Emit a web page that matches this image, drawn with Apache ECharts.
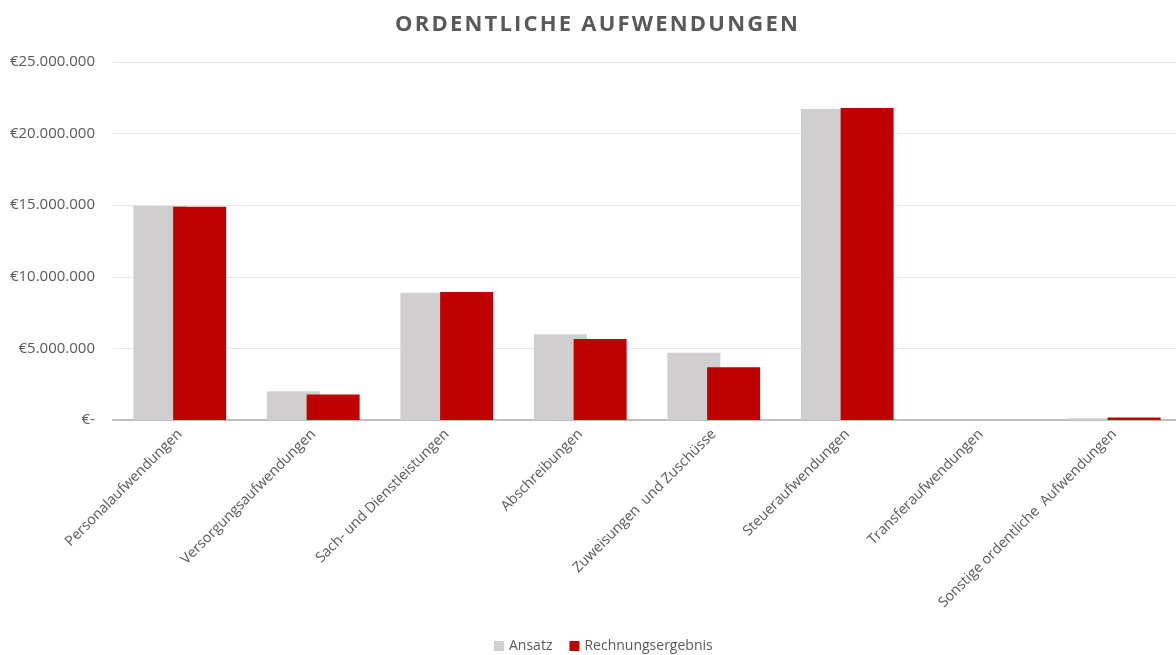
<!DOCTYPE html>
<html>
<head>
<meta charset="utf-8">
<script src="https://cdn.jsdelivr.net/npm/echarts@6/dist/echarts.min.js"></script>
<style>
html,body{margin:0;padding:0;background:#fff;}
#chart{width:1176px;height:655px;}
</style>
</head>
<body>
<div id="chart"></div>
<script>
const categories = ["Personalaufwendungen","Versorgungsaufwendungen","Sach- und Dienstleistungen","Abschreibungen","Zuweisungen  und Zuschüsse","Steueraufwendungen","Transferaufwendungen","Sonstige ordentliche  Aufwendungen"];
const ansatz = [14940000, 2000000, 8890000, 5980000, 4700000, 21720000, 0, 120000];
const rechnungsergebnis = [14890000, 1780000, 8940000, 5660000, 3680000, 21790000, 0, 170000];
const seriesNames = ["Ansatz","Rechnungsergebnis"];
const titleText = "ORDENTLICHE AUFWENDUNGEN";

function fmt(v){
  if (v === 0) return "€-";
  return "€" + String(Math.round(v)).replace(/\B(?=(\d{3})+(?!\d))/g, ".");
}

const chart = echarts.init(document.getElementById('chart'), null, {renderer:'canvas'});
const font = "'Open Sans', sans-serif";
chart.setOption({
  animation:false,
  backgroundColor:'#ffffff',
  title:{
    text: titleText.split('').join('\u200A'),
    left:390, top:9,
    textStyle:{fontFamily:font, fontSize:22, fontWeight:'bold', color:'#595959'}
  },
  legend:{
    data:seriesNames,
    bottom:-3, left:489,
    itemWidth:10, itemHeight:10, itemGap:17,
    icon:'rect',
    textStyle:{fontFamily:font, fontSize:14, color:'#595959'}
  },
  grid:{left:113, width:1068, top:62, height:358, containLabel:false, outerBoundsMode:'none'},
  xAxis:{
    type:'category', data:categories,
    axisLine:{lineStyle:{color:'#bfbfbf', width:2}},
    axisTick:{show:false},
    axisLabel:{rotate:45, interval:0, fontFamily:font, fontSize:14.3, color:'#595959', margin:12}
  },
  yAxis:{
    type:'value', min:0, max:25000000, interval:5000000,
    axisLine:{show:false}, axisTick:{show:false},
    splitLine:{lineStyle:{color:'#e6e6e6', width:1}},
    axisLabel:{formatter:fmt, fontFamily:font, fontSize:15, color:'#595959', margin:18}
  },
  series:[
    {name:seriesNames[0], type:'bar', data:ansatz, barWidth:53, barGap:'-25%', itemStyle:{color:'#d0cece'}},
    {name:seriesNames[1], type:'bar', data:rechnungsergebnis, barWidth:53, barGap:'-25%', itemStyle:{color:'#c00000'}}
  ]
});
</script>
</body>
</html>
